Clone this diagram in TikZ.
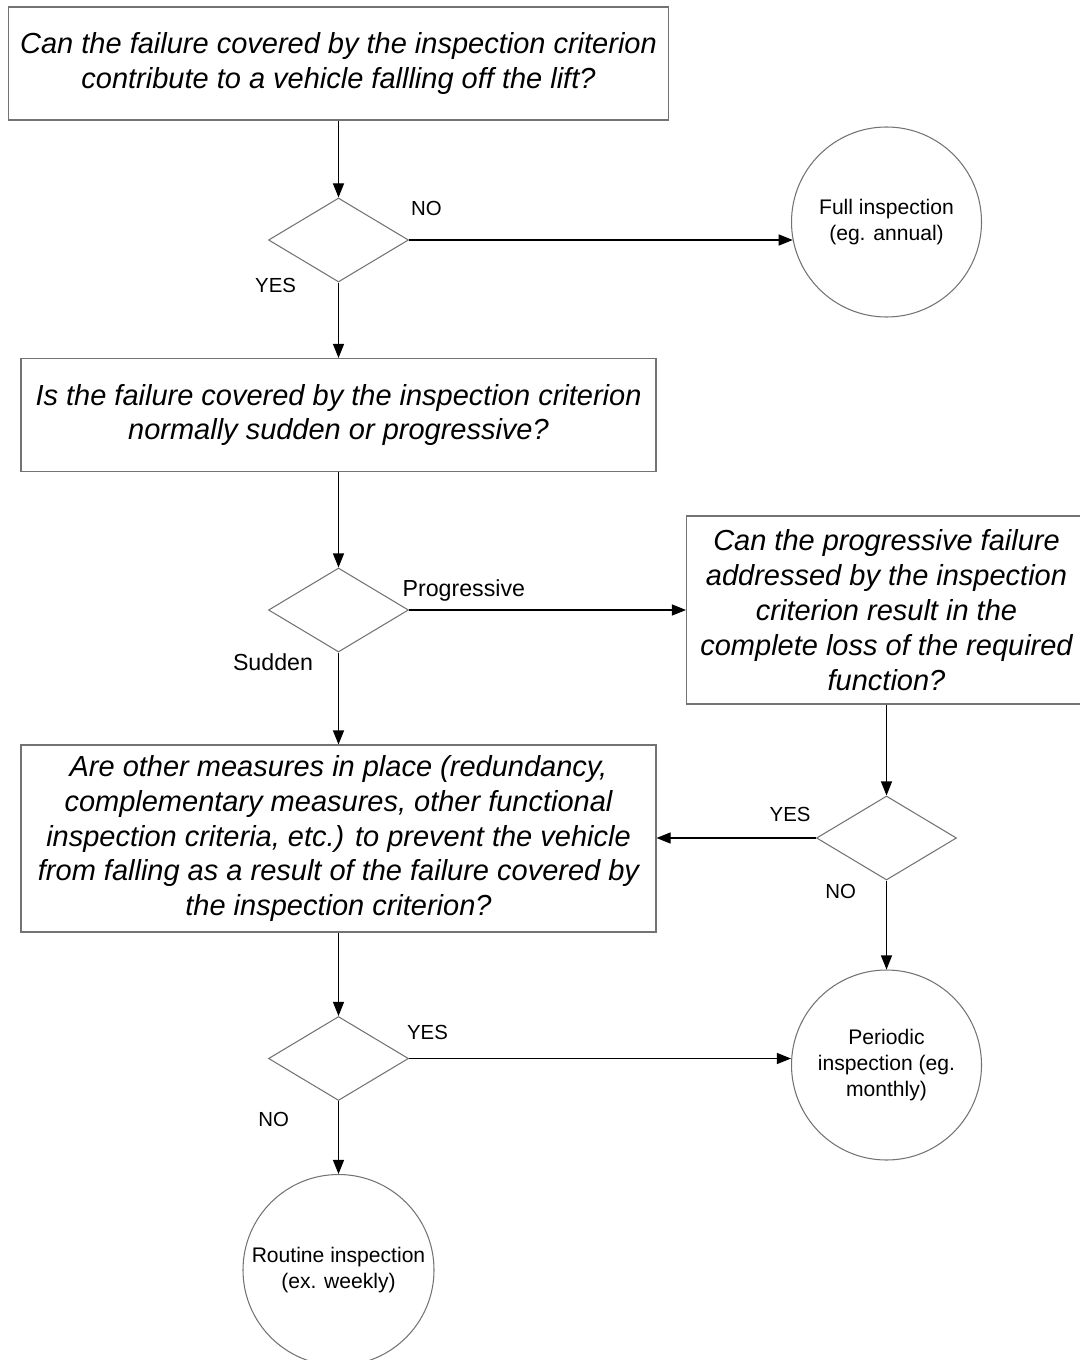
\documentclass[tikz,border=0pt]{standalone}
\usepackage{fontspec}
\setmainfont{Liberation Sans}
\usetikzlibrary{positioning,shapes.geometric,arrows.meta}

\tikzstyle{question} = [rectangle, minimum height=2.26cm, inner sep=0pt, align=center, draw=black!55, line width=0.6pt, font=\fontsize{16.5}{19.9}\selectfont\itshape]
\tikzstyle{decision} = [diamond, minimum width=2.8cm, minimum height=1.68cm, inner sep=0pt, draw=black!55, line width=0.6pt]
\tikzstyle{inspection} = [circle, minimum size=3.8cm, inner sep=0pt, align=center, draw=black!55, line width=0.6pt, font=\fontsize{12}{15}\selectfont]
\tikzstyle{answer} = [inner sep=0pt, font=\fontsize{11.6}{14}\selectfont]
\tikzstyle{branch} = [inner sep=0pt, font=\fontsize{13.2}{16}\selectfont]
\tikzstyle{arrow} = [line width=0.6pt, -{Triangle[length=0.28cm,width=0.22cm]}]

\begin{document}
\begin{tikzpicture}[node distance=3.5cm]
\useasboundingbox (0,0) rectangle (21.6,-27.2);

\node (lift) [question, minimum width=13.21cm] at (6.77,-1.27) {Can the failure covered by the inspection criterion\\contribute to a vehicle fallling off the lift?};
\node (fallcheck) [decision, below of=lift, yshift=-0.03cm] {};
\node (full) [inspection, right of=fallcheck, node distance=10.96cm, yshift=0.36cm] {Full inspection\\(eg. annual)};
\node (kind) [question, minimum width=12.7cm, below of=fallcheck] {Is the failure covered by the inspection criterion\\normally sudden or progressive?};
\node (kindcheck) [decision, below of=kind, yshift=-0.4cm] {};
\node (loss) [question, minimum width=8cm, minimum height=3.76cm, right of=kindcheck, node distance=10.96cm] {Can the progressive failure\\addressed by the inspection\\criterion result in the\\complete loss of the required\\function?};
\node (losscheck) [decision, below of=loss, yshift=-1.06cm] {};
\node (periodic) [inspection, below of=losscheck, yshift=-1.04cm] {Periodic\\inspection (eg.\\monthly)};
\node (measures) [question, minimum width=12.7cm, minimum height=3.74cm, below of=kindcheck, yshift=-1.07cm] {Are other measures in place (redundancy,\\complementary measures, other functional\\inspection criteria, etc.) to prevent the vehicle\\from falling as a result of the failure covered by\\the inspection criterion?};
\node (routinecheck) [decision, below of=measures, yshift=-0.9cm] {};
\node (routine) [inspection, minimum size=3.82cm, below of=routinecheck, yshift=-0.73cm] {Routine inspection\\(ex. weekly)};

\draw [arrow] (lift) -- (fallcheck);
\draw [arrow] (fallcheck.east) -- node[answer, pos=0, anchor=base west, xshift=0.03cm, yshift=0.48cm] {NO} (fallcheck.east -| full.191);
\draw [arrow] (fallcheck.south) -- node[answer, pos=0, anchor=base east, xshift=-0.84cm, yshift=-0.2cm] {YES} (kind.north);
\draw [arrow] (kind) -- (kindcheck);
\draw [arrow] (kindcheck.east) -- node[branch, pos=0, anchor=base west, xshift=-0.14cm, yshift=0.28cm] {Progressive} (loss.west);
\draw [arrow] (kindcheck.south) -- node[branch, pos=0, anchor=base east, xshift=-0.5cm, yshift=-0.36cm] {Sudden} (measures.north);
\draw [arrow] (loss) -- (losscheck);
\draw [arrow] (losscheck.west) -- node[answer, pos=0, anchor=base east, xshift=-0.1cm, yshift=0.34cm] {YES} (losscheck.west -| measures.east);
\draw [arrow] (losscheck.south) -- node[answer, pos=0, anchor=base east, xshift=-0.6cm, yshift=-0.36cm] {NO} (periodic.north);
\draw [arrow] (measures) -- (routinecheck);
\draw [arrow] (routinecheck.east) -- node[answer, pos=0, anchor=base west, xshift=-0.05cm, yshift=0.38cm] {YES} (routinecheck.east -| periodic.west);
\draw [arrow] (routinecheck.south) -- node[answer, pos=0, anchor=base east, xshift=-0.98cm, yshift=-0.5cm] {NO} (routine.north);

\end{tikzpicture}
\end{document}
